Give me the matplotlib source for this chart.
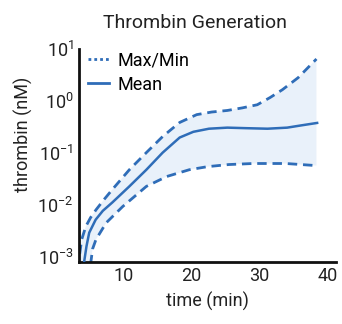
import matplotlib
matplotlib.use("Agg")
import matplotlib.pyplot as plt
from matplotlib.lines import Line2D

plt.rcParams['font.family'] = ['Roboto', 'DejaVu Sans']
plt.rcParams['mathtext.fontset'] = 'custom'
plt.rcParams['mathtext.rm'] = 'Roboto'
plt.rcParams['mathtext.default'] = 'regular'

# Data (time in min, thrombin in nM)
mean_t = [4.2, 4.6, 5.0, 5.95, 7.0, 8.4, 10.9, 13.4, 15.8, 18.3, 20.3, 22.6, 25.3, 28.0, 31.2, 34.1, 36.0, 38.5]
mean_v = [0.00071, 0.00158, 0.00288, 0.00513, 0.00759, 0.011, 0.0224, 0.0468, 0.1, 0.195,
          0.251, 0.288, 0.302, 0.295, 0.288, 0.302, 0.331, 0.372]

max_t = [3.6, 3.9, 4.5, 5.2, 6.0, 7.2, 8.4, 10.9, 13.4, 15.8, 18.3, 20.8, 23.0, 25.3, 27.5, 29.7,
         31.6, 33.4, 35.7, 38.4]
max_v = [0.00112, 0.00214, 0.0038, 0.00562, 0.00794, 0.0126, 0.0195, 0.0468, 0.1, 0.204, 0.38,
         0.537, 0.603, 0.646, 0.724, 0.832, 1.148, 1.622, 2.754, 6.31]

min_t = [5.2, 5.5, 6.0, 7.5, 9.9, 13.4, 16.4, 19.7, 22.4, 25.5, 29.1, 33.9, 38.4]
min_v = [0.00071, 0.00141, 0.00214, 0.00447, 0.00912, 0.0224, 0.0347, 0.0468, 0.0537, 0.0589,
         0.0617, 0.0617, 0.0562]

xticks = [10, 20, 30, 40]
yticks = [1e-3, 1e-2, 1e-1, 1e0, 1e1]
ytick_labels = ['$10^{-3}$', '$10^{-2}$', '$10^{-1}$', '$10^{0}$', '$10^{1}$']

blue = '#2f6db8'
fill_c = '#e9f1fa'
text_c = '#222222'

fig = plt.figure(figsize=(3.42, 3.24), dpi=100)
ax = fig.add_axes([0.231, 0.192, 0.752, 0.658])

poly_t = list(max_t) + list(reversed(min_t)) + [3.5]
poly_v = list(max_v) + list(reversed(min_v)) + [0.0007]
ax.fill(poly_t, poly_v, color=fill_c, lw=0, zorder=1)

dash = (0, (3.4, 2.1))
ax.plot(max_t, max_v, color=blue, lw=2.0, ls=dash, zorder=2)
ax.plot(min_t, min_v, color=blue, lw=2.0, ls=dash, zorder=2)
ax.plot(mean_t, mean_v, color=blue, lw=1.8, zorder=3)

ax.set_yscale('log')
ax.set_xlim(3.5, 41.3)
ax.set_ylim(10**-3.1, 10)
ax.set_xticks(xticks)
ax.set_xticklabels([str(x) for x in xticks])
ax.set_yticks(yticks)
ax.set_yticklabels(ytick_labels)
ax.yaxis.set_minor_locator(matplotlib.ticker.NullLocator())
ax.tick_params(length=0, labelsize=13, pad=4, colors=text_c)
for s in ['top', 'right']:
    ax.spines[s].set_visible(False)
for s in ['left', 'bottom']:
    ax.spines[s].set_linewidth(2)
    ax.spines[s].set_color('#111111')

ax.set_xlabel('time (min)', fontsize=13, color=text_c, labelpad=5)
ax.set_ylabel('thrombin (nM)', fontsize=13, color=text_c)
ax.yaxis.set_label_coords(-0.18, 0.6)
ax.set_title('Thrombin Generation', fontsize=14, color=text_c, pad=15, x=0.45)

handles = [Line2D([], [], color=blue, lw=2, ls=(0, (1, 1.1))),
           Line2D([], [], color=blue, lw=2)]
ax.legend(handles, ['Max/Min', 'Mean'], loc='upper left', frameon=False,
          fontsize=13, handlelength=1.15, handletextpad=0.5,
          borderaxespad=0.1, labelspacing=0.35, bbox_to_anchor=(0.0, 1.03))

fig.savefig('out.png', dpi=100)
